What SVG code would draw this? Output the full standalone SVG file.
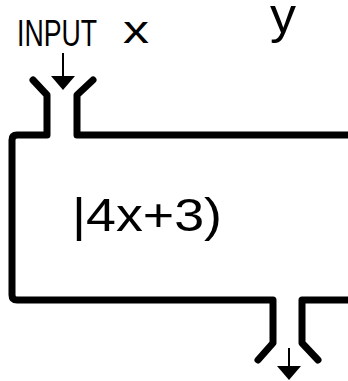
<svg xmlns="http://www.w3.org/2000/svg" width="348" height="381" viewBox="0 0 348 381">
<style>
.w{fill:none;stroke:#000;stroke-width:7;stroke-linecap:round;stroke-linejoin:round}
.a{fill:none;stroke:#000;stroke-width:2}
.t{font-family:"Liberation Sans",Arial,sans-serif;fill:#000}
</style>
<rect width="348" height="381" fill="#fff"/>
<g id="labels">
<text class="t" x="17" y="46" font-size="36" textLength="80" lengthAdjust="spacingAndGlyphs">INPUT</text>
<text class="t" x="123" y="43" font-size="38" textLength="26" lengthAdjust="spacingAndGlyphs">x</text>
<text class="t" x="270" y="33" font-size="50" textLength="26" lengthAdjust="spacingAndGlyphs">y</text>
</g>
<g id="machine">
<path class="w" d="M33,80 L47,95 L47,135 L17,135 Q12,135 12,140 L12,295 Q12,300 17,300 L273,300 L273,343 L258,360"/>
<path class="w" d="M93,80 L77,95 L77,135 L352,135"/>
<path class="w" d="M318,360 L302,343 L302,300 L352,300"/>
<text class="t" x="72" y="231" font-size="46" textLength="150" lengthAdjust="spacingAndGlyphs">|4x+3)</text>
</g>
<g id="connectors">
<line class="a" x1="63" y1="53" x2="63" y2="78"/>
<polygon points="51,76 75,76 63,90" fill="#000"/>
<line class="a" x1="289" y1="348" x2="289" y2="368"/>
<polygon points="277,366 301,366 289,380" fill="#000"/>
</g>
</svg>
